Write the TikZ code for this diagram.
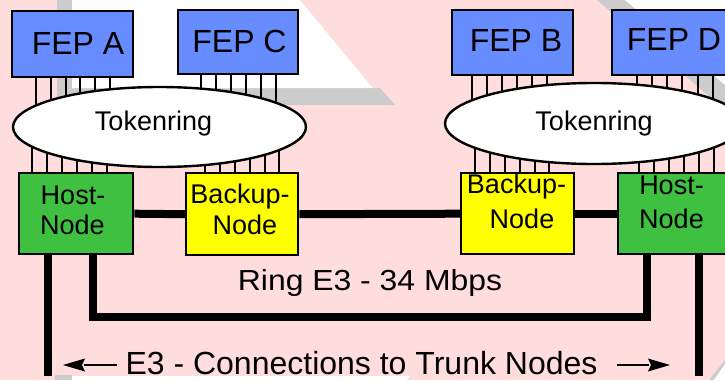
\documentclass[tikz,border=0pt]{standalone}
\usepackage{fontspec}
\setmainfont{Liberation Sans}
\usetikzlibrary{arrows.meta,shapes.geometric}

\definecolor{bgpink}{RGB}{255,221,221}
\definecolor{shadowgray}{RGB}{204,204,204}
\definecolor{fepblue}{RGB}{102,140,255}
\definecolor{hostgreen}{RGB}{64,192,64}
\definecolor{backupyellow}{RGB}{255,255,0}

\pgfdeclarelayer{back}
\pgfdeclarelayer{wires}
\pgfsetlayers{back,wires,main}

\tikzset{
  box/.style={draw=black, line width=2.4pt, inner sep=0pt, anchor=north west},
  fepbox/.style={box, fill=fepblue},
  hostbox/.style={box, fill=hostgreen},
  backupbox/.style={box, fill=backupyellow},
  ringshape/.style={ellipse, draw=black, line width=2.4pt, fill=white, inner sep=0pt},
  feptext/.style={anchor=base, inner sep=0pt, font=\fontsize{32pt}{38pt}\selectfont},
  tokentext/.style={anchor=base, inner sep=0pt, font=\fontsize{27pt}{31pt}\selectfont},
  nodetext/.style={anchor=base, inner sep=0pt, font=\fontsize{27pt}{31pt}\selectfont},
  bigtext/.style={anchor=base, inner sep=0pt, font=\fontsize{32pt}{38pt}\selectfont},
  pinline/.style={draw=black, line width=1.7pt},
  trunk/.style={draw=black, line width=8pt, line join=miter, line cap=butt},
  dimarrow/.style={draw=black, line width=2.2pt},
  dimhead/.style={fill=black, draw=none}
}

\begin{document}
\begin{tikzpicture}[x=1pt,y=-1pt]
\useasboundingbox (0,0) rectangle (725,380);
\clip (0,0) rectangle (725,380);

% slide background with its light panels
\begin{pgfonlayer}{back}
  \fill[bgpink] (0,0) rectangle (725,380);
  \fill[shadowgray] (57,0) -- (300,0) -- (373,88) -- (380,88) -- (395,105) -- (57,105) -- cycle;
  \fill[white] (72,0) -- (300,0) -- (373,88) -- (72,88) -- cycle;
  \fill[shadowgray] (597,0) -- (725,0) -- (725,110) -- cycle;
  \fill[white] (625,0) -- (725,0) -- (725,85) -- cycle;
  \fill[shadowgray] (55,375) rectangle (72,380);
  \fill[white] (72,376) -- (410,376) -- (406,380) -- (72,380) -- cycle;
  \fill[shadowgray] (725,360) -- (725,380) -- (709,380) -- cycle;
  \fill[white] (725,364) -- (725,380) -- (714,380) -- cycle;
\end{pgfonlayer}

% front-end processors
\node[fepbox, minimum width=121pt, minimum height=66pt] (fepA) at (11,10) {};
\node[fepbox, minimum width=120pt, minimum height=64pt] (fepC) at (177,9) {};
\node[fepbox, minimum width=121pt, minimum height=65pt] (fepB) at (451,9) {};
\node[fepbox, minimum width=121pt, minimum height=65pt] (fepD) at (611,9) {};

% token rings
\node[ringshape, minimum width=293pt, minimum height=80pt] (tokA) at (159.5,127) {};
\node[ringshape, minimum width=298pt, minimum height=81pt] (tokB) at (594,123.5) {};

% host and backup nodes
\node[hostbox, minimum width=114pt, minimum height=81pt] (hostA) at (18,172) {};
\node[backupbox, minimum width=112pt, minimum height=82pt] (backA) at (185,172) {};
\node[backupbox, minimum width=113pt, minimum height=81pt] (backB) at (460,172) {};
\node[hostbox, minimum width=114pt, minimum height=81pt] (hostB) at (617,172) {};

% labels
\node[feptext] (lblA) at (78,54.3) {FEP A};
\node[feptext] (lblC) at (239.5,52) {FEP C};
\node[feptext] (lblB) at (516,51) {FEP B};
\node[feptext] (lblD) at (674,50) {FEP D};
\node[tokentext] (lblTokA) at (153.5,130) {Tokenring};
\node[tokentext] (lblTokB) at (594,130) {Tokenring};
\node[nodetext] (lblHostA1) at (73,204.3) {Host-};
\node[nodetext] (lblHostA2) at (72.5,234.3) {Node};
\node[nodetext] (lblBackA1) at (240,203.3) {Backup-};
\node[nodetext] (lblBackA2) at (245,234) {Node};
\node[nodetext] (lblBackB1) at (516.5,193) {Backup-};
\node[nodetext] (lblBackB2) at (522,228) {Node};
\node[nodetext] (lblHostB1) at (671.5,194) {Host-};
\node[nodetext] (lblHostB2) at (671.5,228) {Node};
\node[anchor=base, inner sep=0pt, font=\fontsize{29pt}{34pt}\selectfont] (lblRing) at (370,290.7) {\scalebox{1.1}[1]{Ring E3 - 34 Mbps}};
\node[bigtext] (lblTrunk) at (361.5,374.3) {E3 - Connections to Trunk Nodes};

% free ends of the trunk lines and arrows
\coordinate (ringL) at (92.5,317);
\coordinate (ringR) at (646.5,317);
\coordinate (trunkL) at (47.5,376);
\coordinate (trunkR) at (699,376);
\coordinate (arrLs) at (117,365);
\coordinate (arrLb) at (84,365);
\coordinate (arrLe) at (63,365);
\coordinate (arrRs) at (617,365);
\coordinate (arrRb) at (649,365);
\coordinate (arrRe) at (670,365);

\begin{pgfonlayer}{wires}
  % adapter pins between processors, rings and nodes
  \foreach \x in {36,51,66,80,95,110}
    \draw[pinline] (\x,0 |- fepA.south) -- (\x,0 |- tokA.center);
  \foreach \x in {201,216,231,246,261,276}
    \draw[pinline] (\x,0 |- fepC.south) -- (\x,0 |- tokA.center);
  \foreach \x in {32,47,62,77,92,107}
    \draw[pinline] (\x,0 |- tokA.center) -- (\x,0 |- hostA.north);
  \foreach \x in {205,220,235,250,265,279}
    \draw[pinline] (\x,0 |- tokA.center) -- (\x,0 |- backA.north);
  \foreach \x in {472,487,502,517,532,547}
    \draw[pinline] (\x,0 |- fepB.south) -- (\x,0 |- tokB.center);
  \foreach \x in {637,652,667,682,698,713}
    \draw[pinline] (\x,0 |- fepD.south) -- (\x,0 |- tokB.center);
  \foreach \x in {475,490,505,520,535,549}
    \draw[pinline] (\x,0 |- tokB.center) -- (\x,0 |- backB.north);
  \foreach \x in {639,654,669,684,699,714}
    \draw[pinline] (\x,0 |- tokB.center) -- (\x,0 |- hostB.north);

  % E3 links
  \draw[trunk] (hostA.east) -- (backA.west);
  \draw[trunk] (backA.east) -- (backB.west);
  \draw[trunk] (backB.east) -- (hostB.west);
  \draw[trunk] (hostA.south -| ringL) -- (ringL) -- (ringR) -- (hostB.south -| ringR);
  \draw[trunk] (hostA.south -| trunkL) -- (trunkL);
  \draw[trunk] (hostB.south -| trunkR) -- (trunkR);
\end{pgfonlayer}

% dimension arrows beside the trunk caption
\draw[dimarrow] (arrLs) -- (arrLb);
\fill[dimhead] (arrLe) -- ([shift={(22,-6.5)}]arrLe) -- ([shift={(19,0)}]arrLe) -- ([shift={(22,6.5)}]arrLe) -- cycle;
\draw[dimarrow] (arrRs) -- (arrRb);
\fill[dimhead] (arrRe) -- ([shift={(-22,-6.5)}]arrRe) -- ([shift={(-19,0)}]arrRe) -- ([shift={(-22,6.5)}]arrRe) -- cycle;
\end{tikzpicture}
\end{document}
